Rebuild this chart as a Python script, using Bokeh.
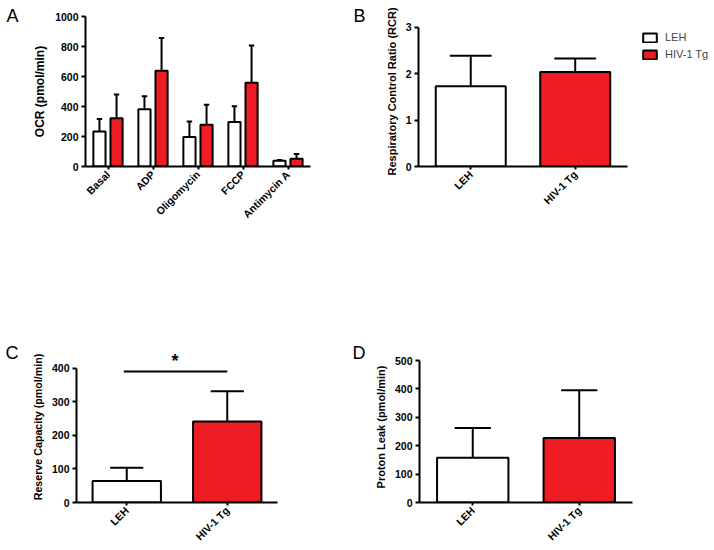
from math import pi
from bokeh.plotting import figure
from bokeh.layouts import column, row
from bokeh.models import (FactorRange, Range1d, Legend, LegendItem,
                          ColumnDataSource, FixedTicker)
from bokeh.transform import dodge
from bokeh.core.properties import value
from bokeh.embed import file_html
from bokeh.resources import INLINE

RED = "#EE1D23"
FONT = "Liberation Sans"

# ---------------- data ----------------
a_categories = ["Basal", "ADP", "Oligomycin", "FCCP", "Antimycin A"]
a_leh_mean = [233, 382, 196, 296, 38]
a_leh_err = [83, 87, 104, 106, 5]
a_hiv_mean = [322, 638, 278, 558, 51]
a_hiv_err = [158, 218, 133, 249, 33]

groups = ["LEH", "HIV-1 Tg"]
b_mean = [1.73, 2.04]
b_err = [0.66, 0.29]
c_mean = [64, 242]
c_err = [40, 90]
d_mean = [158, 227]
d_err = [104, 168]

c_sig_pair = ["LEH", "HIV-1 Tg"]
c_sig_y = 391
c_sig_text = "*"

a_ticks = [0, 200, 400, 600, 800, 1000]
b_ticks = [0, 1, 2, 3]
c_ticks = [0, 100, 200, 300, 400]
d_ticks = [0, 100, 200, 300, 400, 500]

panel_letters = ["A", "B", "C", "D"]


def style(p, ylabel, ticks, label_size="11px"):
    p.outline_line_color = None
    p.xgrid.visible = False
    p.ygrid.visible = False
    p.background_fill_color = "white"
    p.border_fill_color = "white"
    for ax in (p.xaxis[0], p.yaxis[0]):
        ax.axis_line_width = 2
        ax.axis_line_color = "black"
        ax.major_tick_line_width = 2
        ax.major_tick_line_color = "black"
        ax.minor_tick_line_color = None
        ax.major_tick_in = 0
        ax.major_label_text_font = FONT
        ax.major_label_text_font_style = "bold"
        ax.major_label_text_font_size = "10.5px"
        ax.major_label_text_color = "black"
    p.yaxis.major_tick_out = 4
    p.yaxis.major_label_standoff = 3
    p.xaxis.major_tick_out = 3
    p.xaxis.major_label_standoff = 3
    p.xaxis.major_label_orientation = pi / 4
    p.yaxis.ticker = FixedTicker(ticks=ticks)
    p.yaxis.axis_label = ylabel
    p.yaxis.axis_label_text_font = FONT
    p.yaxis.axis_label_text_font_style = "bold"
    p.yaxis.axis_label_text_font_size = label_size
    p.yaxis.axis_label_text_color = "black"
    p.yaxis.axis_label_standoff = 5


def letter(p, text, offset, standoff):
    t = p.title
    t.text = text
    t.align = "left"
    t.vertical_align = "bottom"
    t.offset = offset
    t.standoff = standoff
    t.text_font = FONT
    t.text_font_size = "18px"
    t.text_font_style = "normal"
    t.text_color = "black"


# ---------------- Panel A ----------------
pA = figure(x_range=FactorRange(*a_categories), y_range=Range1d(0, 1000),
            width=350, height=340, min_border_left=85, min_border_right=40,
            min_border_top=16, min_border_bottom=174,
            output_backend="svg", toolbar_location=None)
srcA = ColumnDataSource(dict(
    cat=a_categories,
    leh=a_leh_mean, leh_top=[m + e for m, e in zip(a_leh_mean, a_leh_err)],
    hiv=a_hiv_mean, hiv_top=[m + e for m, e in zip(a_hiv_mean, a_hiv_err)],
))
off = 0.19
bw = 0.27
cap = 0.12
for key, o, col in (("leh", -off, "white"), ("hiv", off, RED)):
    pA.vbar(x=dodge("cat", o, range=pA.x_range), top=key, width=bw, bottom=0,
            source=srcA, fill_color=col, line_color="black", line_width=2)
    pA.segment(x0=dodge("cat", o, range=pA.x_range), y0=key,
               x1=dodge("cat", o, range=pA.x_range), y1=key + "_top",
               source=srcA, line_color="black", line_width=2)
    pA.segment(x0=dodge("cat", o - cap / 2, range=pA.x_range), y0=key + "_top",
               x1=dodge("cat", o + cap / 2, range=pA.x_range), y1=key + "_top",
               source=srcA, line_color="black", line_width=2)
style(pA, "OCR (pmol/min)", a_ticks, "12px")
letter(pA, panel_letters[0], -79, -18)


def two_bar(means, errs, ylabel, ticks, yend, width, height, mb, cap_hw, bw=0.67,
            bounds=None, label_size="11px"):
    p = figure(x_range=FactorRange(*groups), y_range=Range1d(0, yend),
               width=width, height=height,
               min_border_left=mb[0], min_border_right=mb[1],
               min_border_top=mb[2], min_border_bottom=mb[3],
               output_backend="svg", toolbar_location=None)
    src = ColumnDataSource(dict(g=groups, m=means,
                                top=[m + e for m, e in zip(means, errs)],
                                color=["white", RED]))
    p.vbar(x="g", top="m", bottom=0, width=bw, source=src,
           fill_color="color", line_color="black", line_width=2)
    p.segment(x0="g", y0="m", x1="g", y1="top", source=src,
              line_color="black", line_width=2)
    p.segment(x0=dodge("g", -cap_hw, range=p.x_range), y0="top",
              x1=dodge("g", cap_hw, range=p.x_range), y1="top", source=src,
              line_color="black", line_width=2)
    style(p, ylabel, ticks, label_size)
    if bounds is not None:
        p.yaxis.bounds = bounds
    return p


# ---------------- Panel B (numeric x so the legend fits inside the frame) ----
b_x = [i + 0.5 for i in range(len(groups))]
pB = figure(x_range=Range1d(0, 2.833), y_range=Range1d(0, 3.237),
            width=364, height=340, min_border_left=68, min_border_right=0,
            min_border_top=16, min_border_bottom=174,
            output_backend="svg", toolbar_location=None)
srcB = ColumnDataSource(dict(x=b_x, g=groups, m=b_mean,
                             top=[m + e for m, e in zip(b_mean, b_err)],
                             color=["white", RED]))
rB = pB.vbar(x="x", top="m", bottom=0, width=0.67, source=srcB,
             fill_color="color", line_color="black", line_width=2)
pB.segment(x0="x", y0="m", x1="x", y1="top", source=srcB,
           line_color="black", line_width=2)
pB.segment(x0=dodge("x", -0.2), y0="top", x1=dodge("x", 0.2), y1="top",
           source=srcB, line_color="black", line_width=2)
style(pB, "Respiratory Control Ratio (RCR)", b_ticks)
pB.yaxis.bounds = (0, 3)
pB.xaxis.bounds = (0, len(groups))
pB.xaxis.ticker = FixedTicker(ticks=b_x)
pB.xaxis.major_label_overrides = {x: g for x, g in zip(b_x, groups)}
leg = Legend(items=[LegendItem(label=groups[0], renderers=[rB], index=0),
                    LegendItem(label=groups[1], renderers=[rB], index=1)],
             location=(223, 106), glyph_width=17, glyph_height=11,
             label_text_font=FONT, label_text_font_size="11px",
             label_standoff=7, padding=0, margin=0, spacing=5,
             border_line_color=None, background_fill_alpha=0,
             label_height=11)
pB.add_layout(leg, "center")
letter(pB, panel_letters[1], -65, -18)

# ---------------- Panel C ----------------
pC = two_bar(c_mean, c_err, "Reserve Capacity (pmol/min)", c_ticks, 450.7,
             350, 210, (76, 73, 11, 48), 0.165, bw=0.68, bounds=(0, 400),
             label_size="10.7px")
sig = ColumnDataSource(dict(a=[c_sig_pair[0]], b=[c_sig_pair[1]], y=[c_sig_y],
                            t=[c_sig_text]))
pC.segment(x0=dodge("a", -0.03, range=pC.x_range), y0="y",
           x1=dodge("b", 0.0, range=pC.x_range), y1="y", source=sig,
           line_color="black", line_width=2)
pC.text(x=dodge("a", 0.48, range=pC.x_range), y="y", text="t", source=sig,
        text_align="center", text_baseline="bottom", y_offset=-1,
        text_font=value(FONT), text_font_size="18px", text_font_style="bold",
        text_color="black")
letter(pC, panel_letters[2], -71, -22)

# ---------------- Panel D ----------------
pD = two_bar(d_mean, d_err, "Proton Leak (pmol/min)", d_ticks, 531.7,
             356, 210, (69, 74, 11, 48), 0.17, bounds=(0, 500))
letter(pD, panel_letters[3], -67, -22)

layout = column(row(pA, pB), row(pC, pD))
open("out.html", "w").write(file_html(layout, INLINE))
